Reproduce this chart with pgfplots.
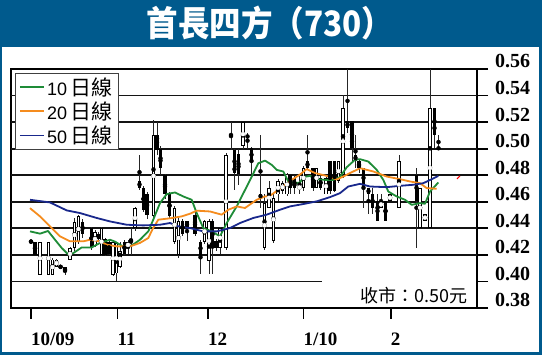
\documentclass[border=0pt]{standalone}
\usepackage{pgfplots}
\usepackage{pgfplotstable}
\pgfplotsset{compat=1.18}
\usepackage{fontspec}
\setmainfont{Liberation Serif}
\newfontfamily\sansf{Liberation Sans}
\newfontfamily\cjk{Noto Sans CJK TC}
\definecolor{tblue}{RGB}{0,90,141}
\definecolor{mgreen}{RGB}{30,140,55}
\definecolor{morange}{RGB}{245,140,30}
\definecolor{mblue}{RGB}{25,40,140}
\definecolor{gridc}{RGB}{20,20,20}

% white (up) candles: x open high low close
\pgfplotstableread{
x o h l c
40 .405 .430 .405 .430
48.5 .405 .430 .405 .430
52.5 .405 .418 .405 .4165
56.5 .411 .417 .411 .4165
70 .4165 .426 .416 .425
74.5 .425 .448 .423 .445
78.5 .430 .450 .428 .449
95 .427 .439 .426 .437
101.5 .420 .441 .419 .440
113 .405 .431 .404 .430
116.5 .406 .430 .400 .429
120 .411 .430 .410 .423
128 .425 .431 .421 .430
135 .440 .456 .438 .4555
153.5 .449 .5216 .447 .510
174.5 .430 .457 .428 .4554
178.5 .420 .448 .418 .4454
204.5 .430 .446 .428 .4455
209 .4155 .447 .4055 .4455
220 .4254 .441 .4204 .4404
226 .4254 .497 .424 .4954
243 .502 .520 .500 .520
264.5 .4255 .466 .424 .459
269 .4555 .4755 .455 .4705
273.5 .4305 .4655 .429 .463
278 .4655 .477 .4605 .4755
282.5 .468 .476 .466 .474
287 .4655 .482 .464 .4805
299.5 .4695 .4805 .4655 .472
303.5 .4705 .487 .468 .4855
316.5 .4705 .4855 .4705 .4855
326 .4655 .479 .4655 .478
338.5 .4755 .491 .474 .4905
343 .4805 .5405 .478 .5305
381 .4555 .4655 .4555 .4605
390 .4605 .4655 .4605 .4655
399 .4555 .4955 .4555 .4905
420 .4405 .4705 .4405 .4705
425 .4455 .4505 .4455 .4505
430 .4405 .560 .4405 .5305
}\upc

% black (down) candles: x open high low close
\pgfplotstableread{
x o h l c
31 .4304 .4304 .4296 .4296
35 .430 .430 .420 .420
60.5 .4115 .4115 .4105 .4105
65 .411 .411 .405 .407
82.5 .445 .447 .433 .436
91.5 .440 .441 .424 .425
98 .4355 .437 .430 .432
105 .432 .433 .419 .420
109 .430 .431 .420 .421
124.5 .430 .431 .420 .421
131 .432 .440 .420 .430
139.5 .4755 .4955 .469 .4705
143.5 .4704 .472 .452 .454
147 .4655 .467 .447 .450
157 .5104 .520 .495 .499
160.5 .500 .502 .480 .4854
165 .4804 .481 .462 .4655
169.5 .4655 .467 .447 .449
182.5 .4454 .447 .434 .436
187 .4454 .4454 .4304 .4404
195 .4504 .4554 .434 .4354
200.5 .430 .431 .4054 .420
212.5 .4455 .447 .4055 .4255
216 .4305 .432 .423 .4255
231 .5108 .520 .499 .5098
234.5 .4991 .500 .469 .4817
238.5 .496 .500 .473 .481
247.5 .5104 .512 .500 .508
251.5 .5004 .501 .4804 .4904
260.5 .4655 .5104 .4554 .463
290.5 .4805 .4805 .4655 .4705
294.5 .478 .480 .4655 .4705
307.5 .4905 .5105 .484 .4855
313 .4855 .4855 .468 .4705
320.5 .478 .480 .469 .4705
330 .4905 .4905 .4655 .468
334.5 .4905 .4905 .467 .468
347.5 .5205 .560 .512 .5155
352 .5205 .5205 .4905 .5005
355.5 .4955 .5105 .4855 .4905
359 .4905 .492 .482 .4855
363.5 .4855 .4855 .4555 .4705
368.5 .4705 .4705 .4505 .4655
372.5 .4655 .4705 .4505 .4555
377.5 .4605 .4655 .4455 .4455
385.5 .4605 .4605 .4455 .4455
416.5 .4805 .4855 .4255 .4605
434.5 .5305 .5305 .5005 .5105
438.5 .5008 .5105 .4995 .4998
}\dnc

\pgfplotstableread{
x y
30 .4377
40 .436
48 .438
55 .4314
61.7 .4252
68 .4205
73 .4212
81.7 .4256
91.7 .4256
100 .429
110 .4314
115 .430
123.3 .4262
131.7 .427
140 .4314
148.3 .4377
153.3 .4466
160 .459
166.7 .4658
175 .467
183.3 .464
191.7 .4615
196.7 .4515
203.3 .4402
211.7 .4377
220 .434
226.7 .444
236.7 .4565
250 .4763
258.3 .489
265 .491
271.7 .4878
276.7 .484
283.3 .4828
288.3 .4753
295 .474
300 .4745
303.3 .4786
310 .4795
316.7 .477
325 .4765
333.3 .4765
340 .4786
346.7 .486
355 .4916
360 .4921
368.3 .4903
376.7 .484
383.3 .4765
388.3 .4677
396.7 .464
405 .4615
411.7 .4577
420 .459
425 .4585
430 .4677
438.3 .4745
}\maten

\pgfplotstableread{
x y
30 .4552
40 .449
50 .4415
60 .434
70 .4302
83.3 .4302
90 .4314
100 .4302
106.7 .4277
116.7 .4264
130 .4264
140 .429
148.3 .4327
153 .440
158.3 .4465
171.7 .4477
181.7 .449
190 .451
196.7 .4533
210 .4527
221.7 .4503
228.3 .454
236.7 .4565
245 .4553
256.7 .4615
265 .464
270 .4645
278.3 .469
291.7 .4765
300 .4805
306.7 .4846
315 .4816
326.7 .4795
336.7 .4768
343.3 .479
350 .4816
360 .4853
373.3 .4828
386.7 .479
400 .477
410 .4753
420 .474
426.7 .4703
436.7 .4698
}\matwenty

\pgfplotstableread{
x y
30 .4615
50 .4595
66.7 .4535
80 .4515
96.7 .4478
110 .4452
126.7 .4427
143.3 .4422
160 .4427
170 .444
178.3 .4415
190 .4402
203.3 .4377
216.7 .4377
230 .4402
240 .444
253.3 .4478
266.7 .4503
280 .454
290 .4565
303.3 .4583
316.7 .4603
330 .4635
340 .4665
348.3 .4715
360 .4735
370 .4715
386.7 .471
400 .472
413.3 .4728
423.3 .474
431.7 .477
438.3 .4795
}\matfifty

\begin{document}
\begin{tikzpicture}
\fill[tblue] (-11pt,-47pt) rectangle (531pt,308pt);
\fill[white] (-8.5pt,-44pt) rectangle (528pt,261pt);
\node[text=white, xscale=0.9, font=\cjk\bfseries\fontsize{35}{35}\selectfont] at (259pt,285pt) {首長四方（730）};
\begin{axis}[
  scale only axis,
  width=466pt, height=239pt,
  xmin=11, xmax=477, ymin=0.38, ymax=0.56,
  axis line style={line width=1.8pt, black},
  tick style={line width=1.8pt, black},
  tick align=outside, major tick length=11pt,
  xtick pos=bottom, ytick pos=right, yticklabel pos=right,
  xtick={31,117.5,208,303.5,390.6},
  xticklabels={10/09,11,12,1/10,2},
  ytick={0.38,0.40,0.42,0.44,0.46,0.48,0.50,0.52,0.54,0.56},
  /pgf/number format/assume math mode=true,
  /pgf/number format/fixed,
  /pgf/number format/fixed zerofill,
  /pgf/number format/precision=2,
  yticklabel style={anchor=base west, inner sep=0pt, xshift=7pt, yshift=1pt,
    font=\bfseries\fontsize{20}{20}\selectfont},
  xticklabel style={anchor=north west, inner sep=0pt, yshift=-14pt,
    font=\bfseries\fontsize{19}{19}\selectfont},
  legend style={at={(axis description cs:0.0095,0.983)}, anchor=north west,
    draw=black!75, line width=1pt, fill=white,
    font=\fontsize{21}{23}\selectfont, inner xsep=3pt, inner ysep=1.5pt,
    row sep=0pt, nodes={inner sep=2.5pt}, cells={anchor=west}},
  legend image code/.code={\draw[#1, line width=1.8pt] (0pt,0pt) -- (24pt,0pt);},
]
% grid lines
\draw[gridc, line width=1.8pt] (axis cs:11,0.42) -- (axis cs:477,0.42);
\draw[gridc, line width=1.8pt] (axis cs:11,0.44) -- (axis cs:477,0.44);
\draw[gridc, line width=1.8pt] (axis cs:11,0.46) -- (axis cs:477,0.46);
\draw[gridc, line width=1.8pt] (axis cs:11,0.48) -- (axis cs:477,0.48);
\draw[gridc, line width=1.8pt] (axis cs:11,0.50) -- (axis cs:477,0.50);
\draw[gridc, line width=1.8pt] (axis cs:11,0.52) -- (axis cs:477,0.52);
\draw[gridc, line width=1.8pt] (axis cs:11,0.54) -- (axis cs:477,0.54);
\draw[gridc, line width=1.8pt] (axis cs:11,0.40) -- (axis cs:322,0.40);

% wicks
\addplot[forget plot, black, only marks, mark=none,
  error bars/.cd, y dir=both, y explicit, error mark=none,
  error bar style={line width=0.9pt, black!85}]
  table[x=x, y expr={(\thisrow{h}+\thisrow{l})/2}, y error expr={(\thisrow{h}-\thisrow{l})/2}] {\dnc};
\addplot[forget plot, black, only marks, mark=none,
  error bars/.cd, y dir=both, y explicit, error mark=none,
  error bar style={line width=0.9pt, black!85}]
  table[x=x, y expr={(\thisrow{h}+\thisrow{l})/2}, y error expr={(\thisrow{h}-\thisrow{l})/2}] {\upc};
% black bodies
\addplot[forget plot, black, only marks, mark=none,
  error bars/.cd, y dir=both, y explicit, error mark=none,
  error bar style={line width=3.8pt, black}]
  table[x=x, y expr={(\thisrow{o}+\thisrow{c})/2}, y error expr={(\thisrow{o}-\thisrow{c})/2}] {\dnc};
% white bodies
\addplot[forget plot, black, only marks, mark=none,
  error bars/.cd, y dir=both, y explicit, error mark=none,
  error bar style={line width=3.8pt, black}]
  table[x=x, y expr={(\thisrow{o}+\thisrow{c})/2}, y error expr={(\thisrow{c}-\thisrow{o})/2}] {\upc};
\addplot[forget plot, white, only marks, mark=none,
  error bars/.cd, y dir=both, y explicit, error mark=none,
  error bar style={line width=1.9pt, white}]
  table[x=x, y expr={(\thisrow{o}+\thisrow{c})/2}, y error expr={max((\thisrow{c}-\thisrow{o})/2-0.0007,0)}] {\upc};

% moving averages
\addplot[mgreen, line width=1.8pt, mark=none, line join=round] table[x=x,y=y] {\maten};
\addlegendentry{{\sansf\fontsize{18}{23}\selectfont 10}\,{\cjk 日線}}
\addplot[morange, line width=1.8pt, mark=none, line join=round] table[x=x,y=y] {\matwenty};
\addlegendentry{{\sansf\fontsize{18}{23}\selectfont 20}\,{\cjk 日線}}
\addplot[mblue, line width=1.8pt, mark=none, line join=round] table[x=x,y=y] {\matfifty};
\addlegendentry{{\sansf\fontsize{18}{23}\selectfont 50}\,{\cjk 日線}}

\addplot[forget plot, red, line width=1pt, mark=none] coordinates {(457,0.4772) (460,0.4795)};

\node[anchor=east, inner sep=0pt, font=\cjk\fontsize{18}{18}\selectfont] at (axis cs:468,0.3893) {收市：0.50元};
\end{axis}
\pgfresetboundingbox
\useasboundingbox (-11pt,-47pt) rectangle (531pt,308pt);
\end{tikzpicture}
\end{document}
